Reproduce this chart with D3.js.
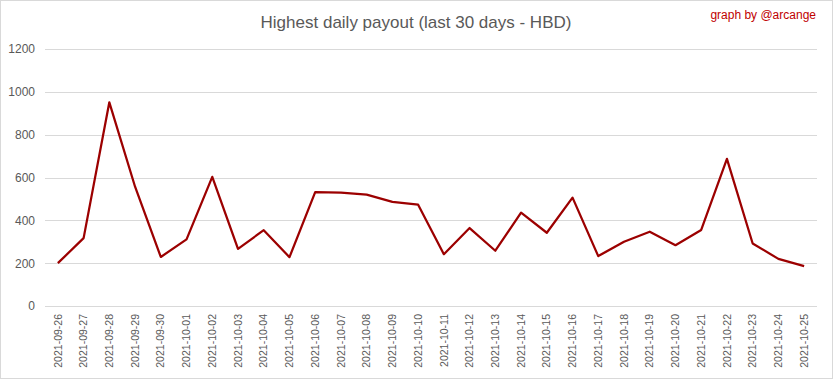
<!DOCTYPE html>
<html>
<head>
<meta charset="utf-8">
<script src="https://cdn.jsdelivr.net/npm/d3@7"></script>
<style>
  body { margin: 0; background: #fff; }
  svg { display: block; font-family: "Liberation Sans", Arial, sans-serif; }
</style>
</head>
<body>
<div id="chart"></div>
<script>
// data
const dates = ["2021-09-26","2021-09-27","2021-09-28","2021-09-29","2021-09-30",
  "2021-10-01","2021-10-02","2021-10-03","2021-10-04","2021-10-05","2021-10-06",
  "2021-10-07","2021-10-08","2021-10-09","2021-10-10","2021-10-11","2021-10-12",
  "2021-10-13","2021-10-14","2021-10-15","2021-10-16","2021-10-17","2021-10-18",
  "2021-10-19","2021-10-20","2021-10-21","2021-10-22","2021-10-23","2021-10-24",
  "2021-10-25"]
const payout = [200, 317, 951, 557, 229, 311, 603, 267, 354, 228, 532,
  529, 520, 486, 473, 242, 364, 258, 436, 342, 506, 233, 300,
  347, 284, 355, 687, 292, 220, 186]
const yTicks = [0, 200, 400, 600, 800, 1000, 1200]

const W = 833, H = 379
const margin = {top: 49, right: 16, bottom: 73, left: 45}
const width = W - margin.left - margin.right
const height = H - margin.top - margin.bottom

const root = d3.select("#chart")
  .append("svg")
    .attr("width", W)
    .attr("height", H)

// outer chart border
root.append("rect")
  .attr("x", 0.5).attr("y", 0.5)
  .attr("width", W - 1).attr("height", H - 1)
  .style("fill", "#fff")
  .style("stroke", "#d9d9d9")

root.append("text")
  .attr("x", 416).attr("y", 28)
  .attr("text-anchor", "middle")
  .attr("font-size", 17)
  .attr("fill", "#595959")
  .text("Highest daily payout (last 30 days - HBD)")

root.append("text")
  .attr("x", 816).attr("y", 19)
  .attr("text-anchor", "end")
  .attr("font-size", 12)
  .attr("fill", "#c00000")
  .text("graph by @arcange")

const svg = root.append("g")
  .attr("transform", "translate(" + margin.left + "," + margin.top + ")")

const x = d3.scaleBand()
  .domain(dates)
  .range([0, width])

const y = d3.scaleLinear()
  .domain([0, 1200])
  .range([height, 0])

// Y axis with gridlines
const yAxis = svg.append("g")
  .call(d3.axisLeft(y).tickValues(yTicks).tickFormat(d3.format("d")).tickSize(-width).tickPadding(10))
yAxis.select(".domain").remove()
yAxis.selectAll(".tick line")
  .attr("stroke", "#d9d9d9")
  .attr("shape-rendering", "crispEdges")
yAxis.selectAll("text")
  .attr("fill", "#595959")
  .attr("font-size", 12)

// X axis, rotated labels
const xAxis = svg.append("g")
  .attr("transform", "translate(0," + height + ")")
  .call(d3.axisBottom(x).tickSize(0))
xAxis.select(".domain").remove()
xAxis.selectAll("text")
  .attr("fill", "#595959")
  .attr("font-size", 10.5)
  .attr("text-anchor", "end")
  .attr("dy", "0.35em")
  .attr("transform", "translate(0,8) rotate(-90)")
  .attr("x", 0).attr("y", 0)

// line
const line = d3.line()
  .x((d, i) => x(dates[i]) + x.bandwidth() / 2)
  .y(d => y(d))

svg.append("path")
  .datum(payout)
  .attr("d", line)
  .style("fill", "none")
  .style("stroke", "#9c0000")
  .style("stroke-width", 2.25)
  .style("stroke-linejoin", "round")
</script>
</body>
</html>
